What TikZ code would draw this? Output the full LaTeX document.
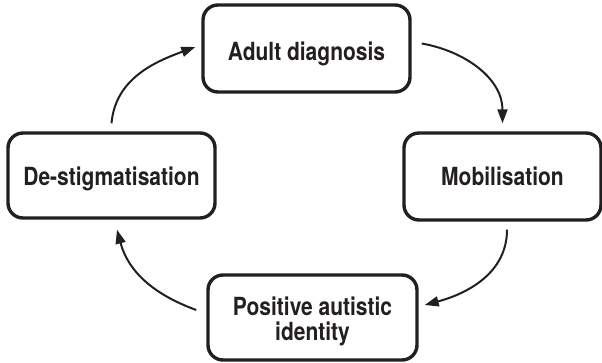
\documentclass[tikz,border=0pt]{standalone}
\usepackage{fontspec}
\usepackage{graphicx}
\setmainfont{TeX Gyre Heros}
\usetikzlibrary{arrows.meta}
\definecolor{ink}{HTML}{231F20}
% labels are set in a slightly tall bold sans
\newcommand\tallword[1]{\scalebox{1}[1.19]{#1}}
\begin{document}
\begin{tikzpicture}[x=1pt,y=1pt,
  stage/.style={draw=ink, line width=3.4pt, rounded corners=15pt,
    text=ink, font=\bfseries\fontsize{21}{25}\selectfont,
    align=center, inner sep=0pt},
  flow/.style={draw=ink, line width=2pt,
    -{Triangle[length=14pt,width=10pt]}}]
\useasboundingbox (0,0) rectangle (602,-363);

% the four stages of the cycle
\node[stage, minimum width=207pt, minimum height=87pt] (T) at (306.5,-48.5)
  {\rule{0pt}{29.8pt}\tallword{Adult diagnosis}};
\node[stage, minimum width=197pt, minimum height=87pt] (R) at (502.5,-176.5)
  {\tallword{Mobilisation}};
\node[stage, minimum width=209pt, minimum height=85pt] (B) at (312.5,-317.5)
  {\rule{0pt}{25.8pt}\tallword{Positive autistic}\\\tallword{identity}};
\node[stage, minimum width=207pt, minimum height=85pt] (L) at (111.5,-175.5)
  {\rule{0pt}{24.8pt}\tallword{De-stigmatisation}};

% curved arrows linking the stages clockwise
\draw[flow] ([xshift=10pt,yshift=5pt]T.east) to[out=-10,in=90] ([yshift=8pt]R.north);
\draw[flow] ([xshift=4.5pt,yshift=-8pt]R.south) to[out=-90,in=15] ([xshift=6pt,yshift=12.5pt]B.east);
\draw[flow] ([xshift=-10pt,yshift=7.5pt]B.west) to[out=160,in=-75] ([xshift=5.5pt,yshift=-10pt]L.south);
\draw[flow] ([yshift=8pt]L.north) to[out=85,in=200] ([xshift=-6pt,yshift=1.5pt]T.west);
\end{tikzpicture}
\end{document}
